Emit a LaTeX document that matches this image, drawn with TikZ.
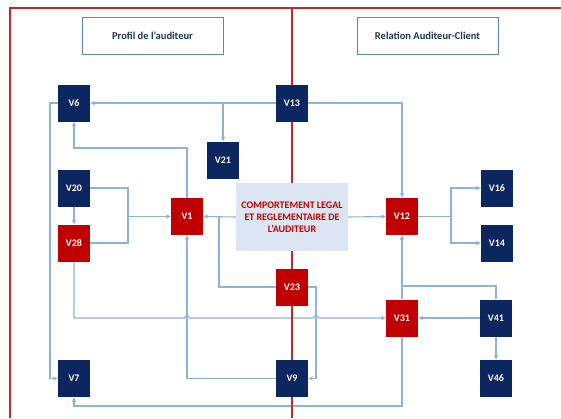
\documentclass[tikz,border=0pt]{standalone}
\usepackage{fontspec}
\setmainfont{Carlito}
\usetikzlibrary{arrows.meta}
\pgfdeclarelayer{connlayer}
\pgfdeclarelayer{redlayer}
\pgfsetlayers{connlayer,redlayer,main}
\definecolor{navy}{HTML}{0C2660}
\definecolor{boxred}{HTML}{C00000}
\definecolor{framered}{HTML}{C0282D}
\definecolor{conncol}{HTML}{8DB3D6}
\definecolor{titleline}{HTML}{5B87B5}
\definecolor{centerfill}{HTML}{DCE6F2}
\definecolor{titletext}{HTML}{1F3358}
\tikzset{
  var/.style={minimum width=32pt,minimum height=37pt,inner sep=0pt,text=white,font=\bfseries\fontsize{10}{11}\selectfont},
  navybox/.style={var,fill=navy},
  redbox/.style={var,fill=boxred},
  titlebox/.style={draw=titleline,line width=1pt,minimum width=141pt,minimum height=37pt,text=titletext,font=\bfseries\fontsize{10.5}{12}\selectfont},
  centerbox/.style={fill=centerfill,minimum width=112pt,minimum height=68pt,align=center,text=boxred,font=\bfseries\fontsize{10}{12}\selectfont},
  line/.style={draw=conncol,line width=1.1pt},
  conn/.style={line,-{Stealth[length=5pt,width=4.5pt]}},
  redline/.style={draw=framered,line width=1.8pt},
}
\begin{document}
\begin{tikzpicture}[x=1pt,y=-1pt]
\useasboundingbox (0,0) rectangle (561,418);
% titles
\node[titlebox] (T1) at (152.5,35.5) {Profil de l’auditeur};
\node[titlebox] (T2) at (427.5,35.5) {Relation Auditeur-Client};
% nodes
\node[navybox] (V6) at (74,103) {V6};
\node[navybox] (V13) at (292,103) {V13};
\node[navybox] (V21) at (223,160) {V21};
\node[navybox] (V20) at (74,188) {V20};
\node[redbox] (V1) at (187,216.5) {V1};
\node[redbox] (V28) at (74,243) {V28};
\node[redbox] (V23) at (292,287) {V23};
\node[navybox] (V7) at (74,378.5) {V7};
\node[navybox] (V9) at (292,378.5) {V9};
\node[redbox] (V12) at (402,216.5) {V12};
\node[navybox] (V16) at (497,188) {V16};
\node[navybox] (V14) at (497,243) {V14};
\node[redbox] (V31) at (402,318) {V31};
\node[navybox] (V41) at (496,318) {V41};
\node[navybox] (V46) at (496,378.5) {V46};
\node[centerbox] (C) at (292,217) {COMPORTEMENT LEGAL\\ET REGLEMENTAIRE DE\\L’AUDITEUR};
\coordinate (J20) at (128,216.5);
\coordinate (J12) at (451,216.5);
\coordinate (J31) at (402,286);
\coordinate (Rtop) at (292,8);
\coordinate (Rbot) at (292,418);
\coordinate (Fbl) at (10,418);
\coordinate (Ftl) at (10,8);
\coordinate (Ftr) at (561,8);
% connectors
\begin{pgfonlayer}{connlayer}
\draw[conn] (V13.west) -- (V6.east);
\draw[conn] (V21.north |- V13.west) -- (V21.north);
\draw[conn] (V13.east) -| (V12.north);
\draw[conn] (V1.north) -- (187,148) -| (V6.south);
\draw[conn] (V6.west) -- (50,103) |- (V7.west);
\draw[conn] (V20.south) -- (V28.north);
\draw[line] (V20.east) -| (128,243) -- (V28.east);
\draw[conn] (J20) -- (V1.west);
\draw[line] (V23.west) -| (219,216.5);
\draw[conn] (V28.south) |- (184.5,318) arc[start angle=180,end angle=360,radius=2.5] -- (313.5,318) arc[start angle=180,end angle=360,radius=2.5] -- (V31.west);
\draw[conn] (V9.west) -| (V1.south);
\draw[conn] (V23.east) -- (316,287) |- (V9.east);
\draw[line] (V12.east) -- (J12);
\draw[conn] (J12) |- (V16.west);
\draw[conn] (J12) |- (V14.west);
\draw[conn] (V31.north) -- (V12.south);
\draw[line] (V41.north) |- (J31);
\draw[conn] (V41.west) -- (V31.east);
\draw[conn] (V41.south) -- (V46.north);
\draw[conn] (V31.south) -- (402,406) -| (V7.south);
\draw[conn] (C.west) -- (V1.east);
\draw[conn] (C.east) -- (V12.west);
\end{pgfonlayer}
% red frame
\begin{pgfonlayer}{redlayer}
\draw[redline] (Fbl) -- (Ftl) -- (Ftr);
\draw[redline] (Rtop) -- (Rbot);
\end{pgfonlayer}
\end{tikzpicture}
\end{document}
